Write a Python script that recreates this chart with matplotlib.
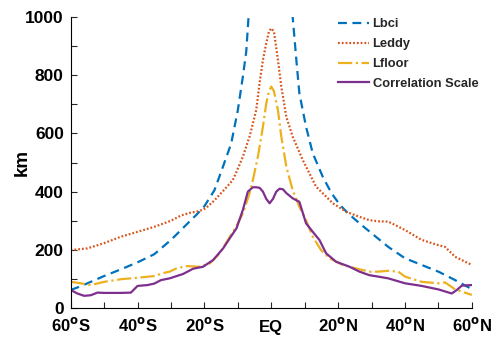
import numpy as np
import matplotlib
matplotlib.use("Agg")
import matplotlib.pyplot as plt
from matplotlib.transforms import ScaledTranslation

plt.rcParams['font.family'] = ['Liberation Sans', 'DejaVu Sans']
plt.rcParams['font.weight'] = 'bold'

# Lbci (dashed) - goes off the top near the equator
lat_bci = [-60, -57, -55, -50, -45, -40, -35, -30, -25, -22, -20, -17, -15, -12, -10,
           -8.5, -7.5, -6.8, -6.3, 0, 6.0, 6.4, 7.5, 8.4, 10.4, 12.4, 15.4, 18, 20.5,
           23, 26.4, 30, 35, 40, 45, 50, 55, 60]
lbci = [62, 75, 85, 110, 133, 157, 185, 234, 291, 325, 350, 405, 468, 565, 680,
        795, 880, 1000, 1100, np.nan, 1100, 1000, 852, 738, 623, 532, 451, 395, 355,
        325, 291, 257, 210, 171, 148, 125, 96, 65]

lat_eddy = [-60, -55, -50, -45, -40, -35, -30, -27, -24.4, -22, -20.4, -19.4, -17,
            -15.4, -13, -11.5, -10.4, -8.5, -6.5, -4.5, -3.5, -2.5, -1.5, -0.7, 0,
            0.8, 2, 3, 4.5, 6.4, 9.4, 11.4, 13.4, 16.4, 18.4, 22.4, 26, 29.3, 32, 35,
            40, 45, 50, 52, 55, 60]
leddy = [199, 205, 223, 245, 262, 279, 300, 318, 327, 332, 338, 345, 370,
         390, 420, 440, 468, 520, 589, 680, 773, 852, 910, 950, 961,
         950, 852, 761, 657, 589, 509, 463, 417, 383, 360, 331, 315, 302, 298, 297,
         268, 234, 216, 210, 176, 148]

lat_floor = [-60, -57, -54, -50, -45, -40, -35, -32, -30.4, -28.4, -25.4, -21.4,
             -18.4, -15.4, -12.4, -10.5, -8.5, -6.5, -5.5, -4, -2.5, -1.5, -0.7, 0,
             0.8, 2, 3, 4.5, 6.4, 8.4, 10.4, 12.4, 14.9, 17.4, 21.4, 25.4, 29.3, 32,
             35, 38, 40, 45, 50, 52, 55, 60]
lfloor = [90, 85, 79, 90, 99, 104, 110, 121, 125, 136, 144, 142,
          153, 188, 245, 280, 325, 394, 440, 520, 623, 703, 745, 761,
          745, 680, 589, 486, 405, 348, 302, 245, 199, 171, 148, 136, 125, 125,
          128, 125, 108, 90, 85, 88, 64, 45]

lat_corr = [-60, -58, -56, -54, -52, -50, -45, -42, -40, -37, -35, -33, -30.4, -26.4,
            -23.4, -20.4, -17.4, -14.4, -12.4, -10.4, -8.5, -7, -5.5, -4.5, -3.5,
            -2.5, -1.5, -0.5, 0.5, 1.5, 2.5, 3.5, 4.5, 6.4, 8.4, 10.4, 12.4, 14.4,
            16.4, 19.4, 23.4, 26.4, 29.3, 32, 35, 40, 45, 50, 54, 55.5, 57, 60]
corr = [62, 50, 42, 44, 53, 52, 52, 53, 76, 79, 84, 96, 102, 117,
        135, 142, 165, 205, 240, 274, 337, 400, 415, 415, 413,
        400, 375, 360, 375, 400, 410, 408, 395, 377, 365, 291, 262, 234,
        188, 159, 142, 125, 113, 108, 102, 85, 76, 64, 50, 62, 77, 79]

xtick_pos = [-60, -40, -20, 0, 20, 40, 60]
xtick_lab = [r'60$^{\mathbf{o}}$S', r'40$^{\mathbf{o}}$S', r'20$^{\mathbf{o}}$S', 'EQ',
             r'20$^{\mathbf{o}}$N', r'40$^{\mathbf{o}}$N', r'60$^{\mathbf{o}}$N']

fig = plt.figure(figsize=(4.91, 3.40), dpi=100)
ax = fig.add_axes([0.144, 0.094, 0.817, 0.856])

ax.plot(lat_bci, lbci, color='#0072BD', lw=1.6, linestyle=(0, (4, 2.5)), label='Lbci')
ax.plot(lat_eddy, leddy, color='#D95319', lw=1.6, linestyle=(0, (0.8, 0.9)), label='Leddy')
ax.plot(lat_floor, lfloor, color='#EDB120', lw=1.6, linestyle='-.', label='Lfloor')
ax.plot(lat_corr, corr, color='#7E2F8E', lw=1.6, label='Correlation Scale')

ax.set_xlim(-60, 60)
ax.set_ylim(0, 1000)
ax.set_xticks(xtick_pos)
ax.set_xticklabels(xtick_lab)
ax.set_xticks(np.arange(-60, 61, 10), minor=True)
ax.set_yticks(np.arange(0, 1001, 200))
ax.set_yticks(np.arange(0, 1001, 100), minor=True)
ax.tick_params(which='both', direction='in', width=0.8, colors='#262626', length=4)
ax.tick_params(axis='x', pad=6, labelsize=12)
ax.tick_params(axis='y', pad=5, labelsize=12.5)
for lab in ax.get_xticklabels() + ax.get_yticklabels():
    lab.set_color('black')
    lab.set_fontweight('bold')
# EQ has no superscript, so nudge it down to share the baseline of the others
eq = ax.get_xticklabels()[3]
eq.set_transform(eq.get_transform() + ScaledTranslation(0, -2.5 / 72, fig.dpi_scale_trans))
ax.spines['top'].set_visible(False)
ax.spines['right'].set_visible(False)
ax.set_ylabel('km', fontsize=13.5, fontweight='bold')
ax.yaxis.set_label_coords(-0.10, 0.5)

leg = ax.legend(loc='upper right', frameon=False, handlelength=2.4,
                handletextpad=0.25, labelspacing=0.6, bbox_to_anchor=(1.045, 1.035),
                prop={'weight': 'bold', 'size': 9.3})
for t in leg.get_texts():
    t.set_color('#262626')

fig.savefig('out.png', dpi=100)
